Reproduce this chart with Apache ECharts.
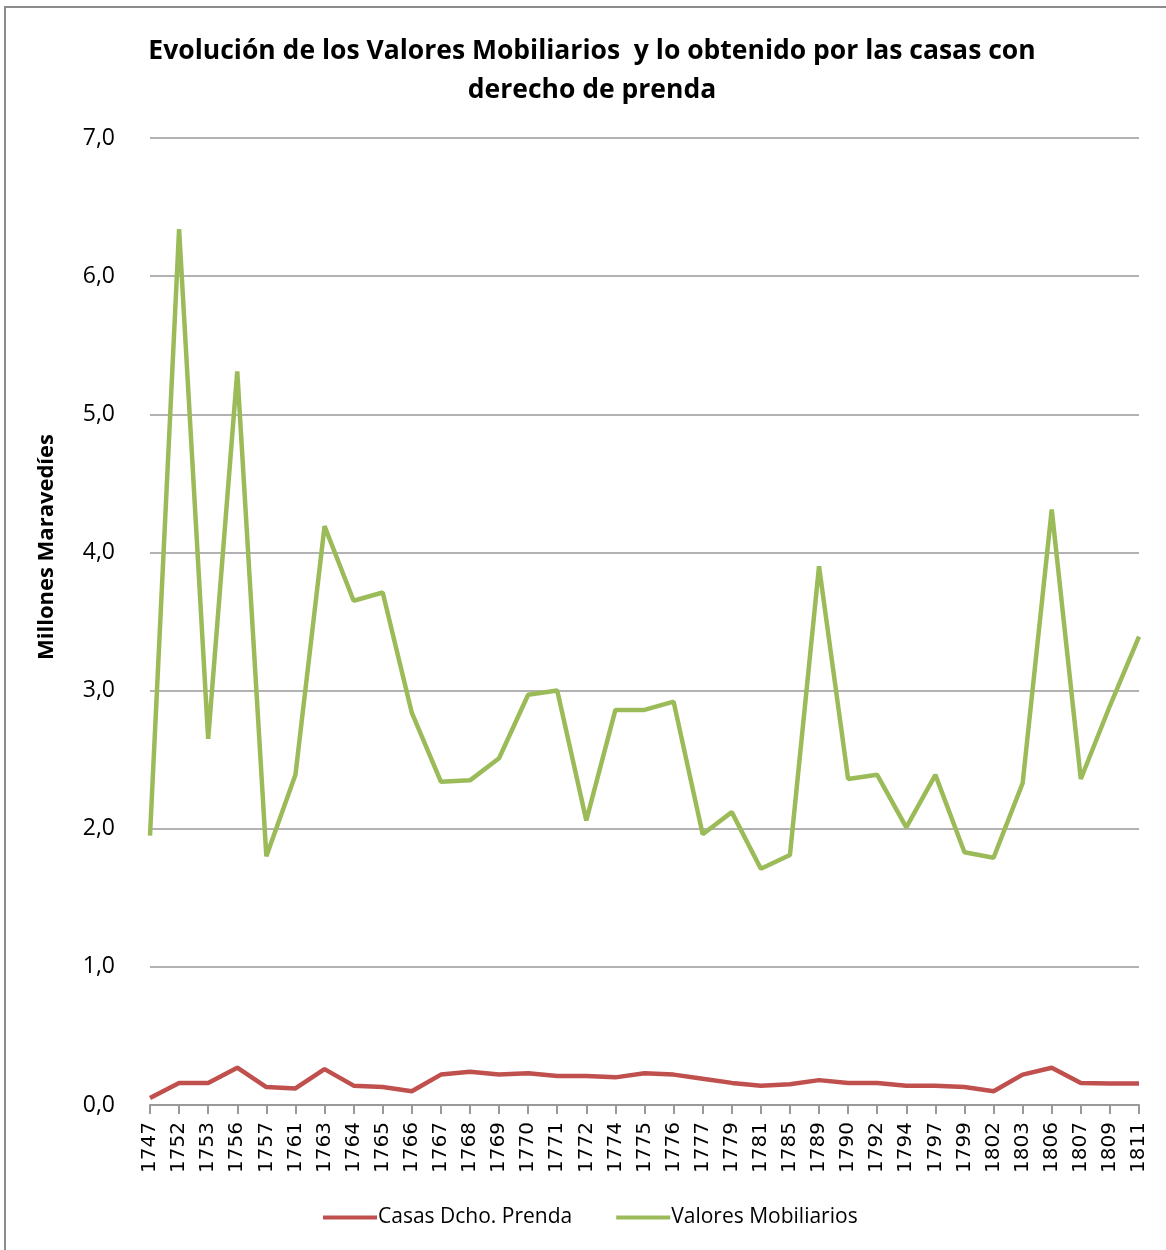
<!DOCTYPE html>
<html>
<head>
<meta charset="utf-8">
<script src="https://cdn.jsdelivr.net/npm/echarts@6/dist/echarts.min.js"></script>
<style>
html,body{margin:0;padding:0;background:#fff;overflow:hidden;}
#chart{position:absolute;left:0;top:0;width:1166px;height:1250px;}
#frame{position:absolute;left:4px;top:6px;width:1180px;height:1260px;border:2px solid #8c8c8c;box-sizing:border-box;pointer-events:none;}
</style>
</head>
<body>
<div id="chart"></div>
<div id="frame"></div>
<script>
const titleText = 'Evolución de los Valores Mobiliarios  y lo obtenido por las casas con\nderecho de prenda';
const yAxisName = 'Millones Maravedíes';
const years = ['1747','1752','1753','1756','1757','1761','1763','1764','1765','1766','1767','1768','1769','1770','1771','1772','1774','1775','1776','1777','1779','1781','1785','1789','1790','1792','1794','1797','1799','1802','1803','1806','1807','1809','1811'];
const casasDchoPrenda = [0.05,0.16,0.16,0.27,0.13,0.12,0.26,0.14,0.13,0.10,0.22,0.24,0.22,0.23,0.21,0.21,0.20,0.23,0.22,0.19,0.16,0.14,0.15,0.18,0.16,0.16,0.14,0.14,0.13,0.10,0.22,0.27,0.16,0.155,0.155];
const valoresMobiliarios = [1.95,6.34,2.65,5.31,1.80,2.39,4.19,3.65,3.71,2.84,2.34,2.35,2.51,2.97,3.00,2.06,2.86,2.86,2.92,1.96,2.12,1.71,1.81,3.90,2.36,2.39,2.01,2.39,1.83,1.79,2.33,4.31,2.36,2.89,3.39];
const seriesNames = ['Casas Dcho. Prenda','Valores Mobiliarios'];
const colors = ['#C0504D','#9BBB59'];

const chart = echarts.init(document.getElementById('chart'));
chart.setOption({
  animation:false,
  backgroundColor:'#fff',
  title:{
    text:titleText,
    left:587, textAlign:'center', top:27,
    textStyle:{fontFamily:'Open Sans',fontWeight:'bold',fontSize:26.5,color:'#000',lineHeight:39}
  },
  legend:{
    data:seriesNames,
    left:318, top:1202,
    itemWidth:54, itemHeight:4, itemGap:44,
    icon:'rect',
    textStyle:{fontFamily:'Open Sans',fontSize:21,color:'#000',padding:[0,0,0,-4]}
  },
  grid:{left:150,right:27,top:138,bottom:145,containLabel:false},
  xAxis:{
    type:'category',
    data:years,
    boundaryGap:false,
    axisLine:{lineStyle:{color:'#999',width:2}},
    axisTick:{show:true,length:9,lineStyle:{color:'#999',width:2},alignWithLabel:true},
    axisLabel:{rotate:90,interval:0,margin:17,fontFamily:'DejaVu Sans',fontSize:20,color:'#000'}
  },
  yAxis:{
    type:'value',
    min:0,max:7,interval:1,
    axisLine:{show:false},
    axisTick:{show:false},
    axisLabel:{margin:35,fontFamily:'Open Sans',fontSize:23,color:'#000',formatter:v=>v.toFixed(1).replace('.',',')},
    splitLine:{lineStyle:{color:'#999',width:1.5}}
  },
  graphic:[{
    type:'text',
    x:47, y:547,
    rotation:Math.PI/2,
    style:{text:yAxisName,fontFamily:'Open Sans',fontWeight:'bold',fontSize:22,fill:'#000',align:'center',verticalAlign:'middle'}
  }],
  series:[
    {name:seriesNames[0],type:'line',data:casasDchoPrenda,showSymbol:false,symbol:'none',lineStyle:{color:colors[0],width:4.5},itemStyle:{color:colors[0]}},
    {name:seriesNames[1],type:'line',data:valoresMobiliarios,showSymbol:false,symbol:'none',lineStyle:{color:colors[1],width:4.5},itemStyle:{color:colors[1]}}
  ]
});
</script>
</body>
</html>
